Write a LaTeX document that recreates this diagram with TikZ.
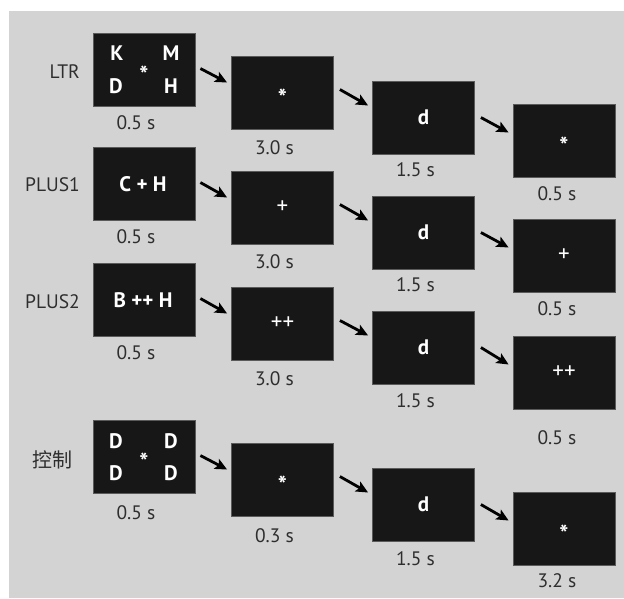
\documentclass[tikz,border=0pt]{standalone}
\usepackage{fontspec}
\setmainfont{PT Sans}
\newfontfamily\cjk{Noto Sans CJK SC}
\usetikzlibrary{calc,arrows.meta}
\definecolor{bg}{HTML}{D3D3D3}
\definecolor{boxfill}{HTML}{171717}
\definecolor{boxedge}{HTML}{5A5A5A}
\definecolor{txt}{HTML}{2E2E2E}
\begin{document}
\begin{tikzpicture}[x=1pt,y=-1pt,
  screen/.style={draw=boxedge, line width=0.8pt, fill=boxfill, minimum width=102pt, minimum height=73pt, inner sep=0pt},
  dur/.style={text=txt, font=\fontsize{19.5}{22}\selectfont, inner sep=0pt},
  cond/.style={text=txt, font=\fontsize{19.5}{22}\selectfont, inner sep=0pt, anchor=east},
  stim/.style={text=white, font=\fontsize{21}{24}\selectfont\bfseries, inner sep=0pt},
  sym/.style={text=white, font=\fontsize{23}{26}\selectfont, inner sep=0pt},
  fix/.style={text=white, font=\fontsize{24}{26}\selectfont\bfseries, inner sep=0pt, yshift=-5pt},
  flow/.style={-{Stealth[length=12pt,width=11pt,inset=2.5pt]}, line width=2.8pt, black},
]
\useasboundingbox (0,0) rectangle (624,598);
\fill[white] (0,0) rectangle (624,598);
\fill[bg] (9,11) rectangle (624,598);

% ---------- Row 1: LTR ----------
\node[screen] (a1) at (144,69.5) {};
\node[screen] (a2) at (282.5,92.5) {};
\node[screen] (a3) at (423.5,117.5) {};
\node[screen] (a4) at (564,140.5) {};
\node[cond] (la) at (80,72) {LTR};
\node[stim] (a1k) at ($(a1)+(-27,-16.5)$) {K};
\node[stim] (a1m) at ($(a1)+(27,-16.5)$) {M};
\node[stim] (a1d) at ($(a1)+(-28,16.5)$) {D};
\node[stim] (a1h) at ($(a1)+(27,16.5)$) {H};
\node[fix] (a1s) at (a1) {*};
\node[fix] (a2s) at (a2) {*};
\node[stim] (a3d) at (a3) {d};
\node[fix] (a4s) at (a4) {*};
\node[dur] (ta1) at ($(a1.south)+(-8,16)$) {0.5 s};
\node[dur] (ta2) at ($(a2.south)+(-8,18)$) {3.0 s};
\node[dur] (ta3) at ($(a3.south)+(-8,15)$) {1.5 s};
\node[dur] (ta4) at ($(a4.south)+(-7,16)$) {0.5 s};
\draw[flow] ($(a1.east)+(5,-1)$) -- ($(a2.west)+(-4,-10)$);
\draw[flow] ($(a2.east)+(6,-3)$) -- ($(a3.west)+(-4,-12)$);
\draw[flow] ($(a3.east)+(6,0)$) -- ($(a4.west)+(-4,-8)$);

% ---------- Row 2: PLUS1 ----------
\node[screen] (b1) at (144,183.5) {};
\node[screen] (b2) at (282.5,207.5) {};
\node[screen] (b3) at (423.5,232.5) {};
\node[screen] (b4) at (564,255.5) {};
\node[cond] (lb) at (80,185) {PLUS1};
\node[stim] (b1t) at ($(b1)+(-1,1)$) {C + H};
\node[sym] (b2t) at (b2) {+};
\node[stim] (b3d) at (b3) {d};
\node[sym] (b4t) at (b4) {+};
\node[dur] (tb1) at ($(b1.south)+(-8,16)$) {0.5 s};
\node[dur] (tb2) at ($(b2.south)+(-8,17)$) {3.0 s};
\node[dur] (tb3) at ($(b3.south)+(-8,15)$) {1.5 s};
\node[dur] (tb4) at ($(b4.south)+(-7,16)$) {0.5 s};
\draw[flow] ($(b1.east)+(5,-1)$) -- ($(b2.west)+(-4,-10)$);
\draw[flow] ($(b2.east)+(6,-3)$) -- ($(b3.west)+(-4,-12)$);
\draw[flow] ($(b3.east)+(6,0)$) -- ($(b4.west)+(-4,-8)$);

% ---------- Row 3: PLUS2 ----------
\node[screen] (c1) at (144,299.5) {};
\node[screen] (c2) at (282.5,323.5) {};
\node[screen] (c3) at (423.5,347.5) {};
\node[screen] (c4) at (564,372.5) {};
\node[cond] (lc) at (80,302) {PLUS2};
\node[stim] (c1t) at ($(c1)+(-1,1)$) {B ++ H};
\node[sym] (c2t) at (c2) {++};
\node[stim] (c3d) at (c3) {d};
\node[sym] (c4t) at (c4) {++};
\node[dur] (tc1) at ($(c1.south)+(-8,16)$) {0.5 s};
\node[dur] (tc2) at ($(c2.south)+(-8,18)$) {3.0 s};
\node[dur] (tc3) at ($(c3.south)+(-8,16)$) {1.5 s};
\node[dur] (tc4) at ($(c4.south)+(-7,28)$) {0.5 s};
\draw[flow] ($(c1.east)+(5,-1)$) -- ($(c2.west)+(-4,-10)$);
\draw[flow] ($(c2.east)+(6,-3)$) -- ($(c3.west)+(-4,-12)$);
\draw[flow] ($(c3.east)+(6,0)$) -- ($(c4.west)+(-4,-8)$);

% ---------- Row 4: control ----------
\node[screen] (d1) at (144,456.5) {};
\node[screen] (d2) at (282.5,479.5) {};
\node[screen] (d3) at (423.5,504.5) {};
\node[screen] (d4) at (564,528.5) {};
\node[cond, font=\cjk\fontsize{20}{22}\selectfont] (ld) at (73,460) {控制};
\node[stim] (d1a) at ($(d1)+(-28,-15)$) {D};
\node[stim] (d1b) at ($(d1)+(27,-15)$) {D};
\node[stim] (d1c) at ($(d1)+(-28,17)$) {D};
\node[stim] (d1e) at ($(d1)+(27,17)$) {D};
\node[fix] (d1s) at (d1) {*};
\node[fix] (d2s) at (d2) {*};
\node[stim] (d3d) at (d3) {d};
\node[fix] (d4s) at (d4) {*};
\node[dur] (td1) at ($(d1.south)+(-8,19)$) {0.5 s};
\node[dur] (td2) at ($(d2.south)+(-8,19)$) {0.3 s};
\node[dur] (td3) at ($(d3.south)+(-8,17)$) {1.5 s};
\node[dur] (td4) at ($(d4.south)+(-7,15)$) {3.2 s};
\draw[flow] ($(d1.east)+(5,-1)$) -- ($(d2.west)+(-4,-10)$);
\draw[flow] ($(d2.east)+(6,-3)$) -- ($(d3.west)+(-4,-12)$);
\draw[flow] ($(d3.east)+(6,0)$) -- ($(d4.west)+(-4,-8)$);
\end{tikzpicture}
\end{document}
